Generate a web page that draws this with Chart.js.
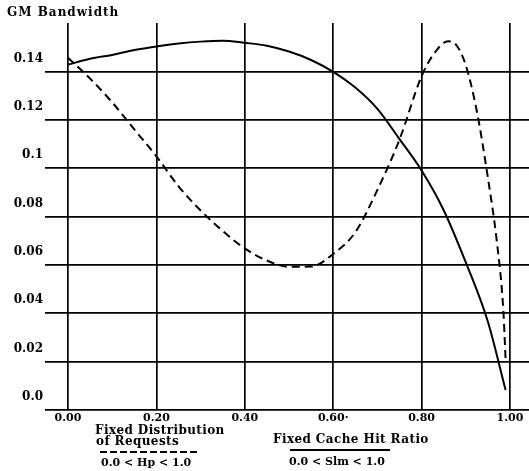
<!DOCTYPE html>
<html><head><meta charset="utf-8">
<script src="https://cdn.jsdelivr.net/npm/chart.js"></script>
<style>html,body{margin:0;padding:0;background:#fff;}</style>
</head><body>
<canvas id="c" width="529" height="471"></canvas>
<script>
// Fixed Distribution of Requests (dashed), 0.0 < Hp < 1.0
const hpX = [0.00,0.05,0.10,0.15,0.20,0.25,0.30,0.35,0.40,0.45,0.50,0.55,0.60,0.65,0.70,0.75,0.80,0.83,0.86,0.88,0.90,0.925,0.95,0.97,0.985,0.99];
const hpY = [0.1456,0.1370,0.1272,0.1160,0.1049,0.0925,0.0825,0.0740,0.0668,0.0618,0.0592,0.0593,0.0645,0.0735,0.0910,0.1118,0.1380,0.1478,0.1525,0.1505,0.1425,0.1235,0.0960,0.0700,0.0410,0.0211];
// Fixed Cache Hit Ratio (solid), 0.0 < Slm < 1.0
const slmX = [0.00,0.05,0.10,0.15,0.20,0.25,0.30,0.35,0.40,0.45,0.50,0.55,0.60,0.65,0.70,0.75,0.80,0.85,0.90,0.95,0.99];
const slmY = [0.1428,0.1452,0.1468,0.1488,0.1503,0.1515,0.1523,0.1527,0.1518,0.1506,0.1482,0.1447,0.1398,0.1333,0.1245,0.1120,0.0990,0.0826,0.0610,0.0365,0.0083];

const xTickValues = [0,0.2,0.4,0.6,0.8,1.0];
const xTickLabels = ['0.00','0.20','0.40','0.60·','0.80','1.00'];
const yTickValues = [0,0.02,0.04,0.06,0.08,0.10,0.12,0.14];
const yTickLabels = ['0.0','0.02','0.04','0.06','0.08','0.1','0.12','0.14'];

const SERIF = '"DejaVu Serif", "Liberation Serif", serif';

const textPlugin = {
  id: 'texts',
  afterDraw(chart) {
    const ctx = chart.ctx;
    ctx.save();
    ctx.fillStyle = '#000';
    ctx.textBaseline = 'middle';
    ctx.textAlign = 'left';
    ctx.letterSpacing = '1px';
    ctx.font = 'bold 12px ' + SERIF;
    ctx.fillText('GM Bandwidth', 7, 13);
    ctx.letterSpacing = '0.4px';
    ctx.font = 'bold 12px ' + SERIF;
    ctx.fillText('Fixed Distribution', 95, 431);
    ctx.fillText('of Requests', 96, 442);
    ctx.fillText('Fixed Cache Hit Ratio', 273, 440);
    ctx.letterSpacing = '0px';
    ctx.font = 'bold 11px ' + SERIF;
    ctx.fillText('0.0 < Hp < 1.0', 101, 463);
    ctx.fillText('0.0 < Slm < 1.0', 289, 462);
    // legend line samples
    ctx.strokeStyle = '#000';
    ctx.lineWidth = 2;
    ctx.setLineDash([7, 3]);
    ctx.beginPath(); ctx.moveTo(100, 452); ctx.lineTo(197, 452); ctx.stroke();
    ctx.setLineDash([]);
    ctx.beginPath(); ctx.moveTo(290, 450); ctx.lineTo(390, 450); ctx.stroke();
    ctx.restore();
  }
};

new Chart(document.getElementById('c'), {
  type: 'line',
  data: {
    datasets: [
      {
        label: 'Fixed Distribution of Requests',
        data: hpX.map((x, i) => ({x, y: hpY[i]})),
        borderColor: '#000', borderWidth: 2, borderDash: [8, 5],
        pointRadius: 0, fill: false, cubicInterpolationMode: 'monotone'
      },
      {
        label: 'Fixed Cache Hit Ratio',
        data: slmX.map((x, i) => ({x, y: slmY[i]})),
        borderColor: '#000', borderWidth: 2,
        pointRadius: 0, fill: false, cubicInterpolationMode: 'monotone'
      }
    ]
  },
  options: {
    responsive: false,
    animation: false,
    layout: { padding: { top: 23, right: 0, left: 0, bottom: 0 } },
    plugins: { legend: { display: false }, title: { display: false }, tooltip: { enabled: false } },
    scales: {
      x: {
        type: 'linear', min: -0.052, max: 1.043,
        afterBuildTicks: s => { s.ticks = xTickValues.map(v => ({value: v})); },
        afterFit: s => { s.height = 61; },
        border: { display: false },
        grid: { color: '#000', lineWidth: 1.7, drawTicks: false },
        ticks: {
          padding: 2, color: '#000',
          font: { family: SERIF, size: 11, weight: 'bold' },
          maxRotation: 0, autoSkip: false,
          callback: (v, i) => xTickLabels[xTickValues.indexOf(+v.toFixed(2))] ?? ''
        }
      },
      y: {
        type: 'linear', min: 0, max: 0.16,
        afterBuildTicks: s => { s.ticks = yTickValues.map(v => ({value: v})); },
        afterFit: s => { s.width = 45; },
        border: { display: false },
        grid: { color: '#000', lineWidth: 1.7, drawTicks: false },
        ticks: {
          padding: 2, color: '#000', labelOffset: -13,
          font: { family: SERIF, size: 12, weight: 'bold' },
          autoSkip: false,
          callback: (v) => yTickLabels[yTickValues.findIndex(t => Math.abs(t - v) < 1e-6)] ?? ''
        }
      }
    }
  },
  plugins: [textPlugin]
});
</script>
</body></html>
